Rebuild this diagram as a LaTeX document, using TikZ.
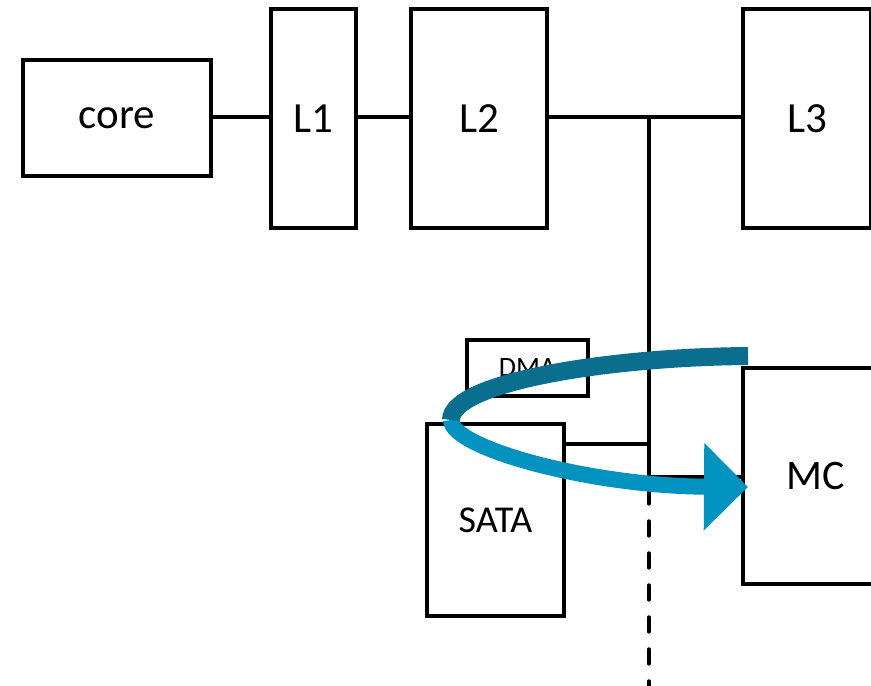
\documentclass[tikz,border=0pt]{standalone}
\usepackage{fontspec}
\setmainfont{Carlito}
\usetikzlibrary{arrows.meta}

\definecolor{flowdark}{RGB}{10,110,142}
\definecolor{flowlight}{RGB}{0,147,191}

\tikzset{
    box/.style={draw, line width=3.4pt, inner sep=0pt, align=center},
    wire/.style={line width=3.4pt},
    flow/.style={line width=16pt}
}

\begin{document}
\begin{tikzpicture}[x=1pt, y=-1pt]
    \useasboundingbox (0,0) rectangle (871,686);
    \clip (0,0) rectangle (871,686);

    % Cache hierarchy
    \node[box, minimum width=188pt, minimum height=116pt, font=\fontsize{43}{45}\selectfont] (core) at (117,118) {core};
    \node[box, minimum width=85pt, minimum height=219pt, font=\fontsize{43}{45}\selectfont] (L1) at (313.5,118.5) {L1};
    \node[box, minimum width=136pt, minimum height=219pt, font=\fontsize{43}{45}\selectfont] (L2) at (479,118.5) {L2};
    \node[box, minimum width=128pt, minimum height=219pt, font=\fontsize{43}{45}\selectfont] (L3) at (807,118.5) {L3};

    % Devices
    \node[box, minimum width=121pt, minimum height=56pt, font=\fontsize{28}{30}\selectfont] (dma) at (527.5,368) {DMA};
    \node[box, minimum width=137pt, minimum height=192pt, font=\fontsize{38}{40}\selectfont] (sata) at (495.5,520) {SATA};
    \node[box, minimum width=146pt, minimum height=216pt, font=\fontsize{42}{44}\selectfont] (mc) at (816,476) {MC};

    % Bus taps
    \coordinate (tap) at (649,117);
    \coordinate (sataj) at (649,444);
    \coordinate (mcj) at (649,477);
    \coordinate (busend) at (649,690);

    % Wires
    \draw[wire] (core.east |- tap) -- (L1.west |- tap);
    \draw[wire] (L1.east |- tap) -- (L2.west |- tap);
    \draw[wire] (L2.east |- tap) -- (L3.west |- tap);
    \draw[wire] (tap) -- (mcj);
    \draw[wire] (sata.east |- sataj) -- (sataj);
    \draw[wire] (mcj) -- (mc.west |- mcj);
    \draw[wire, line cap=round, dash pattern=on 15pt off 17pt, dash phase=-12pt] (mcj) -- (busend);

    % DMA transfer arrow
    \coordinate (flowstart) at (748,356);
    \coordinate (flowturn) at (451,420);
    \coordinate (flowtip) at (748,487);
    \draw[flow, flowlight, -{Triangle[length=44pt 0 0, width=85pt 0 0]}] (flowturn) .. controls (451,448) and (590,486) .. (flowtip);
    \draw[flow, line width=18pt, flowdark] (flowstart) .. controls (610,357) and (451,382) .. (flowturn);
\end{tikzpicture}
\end{document}
